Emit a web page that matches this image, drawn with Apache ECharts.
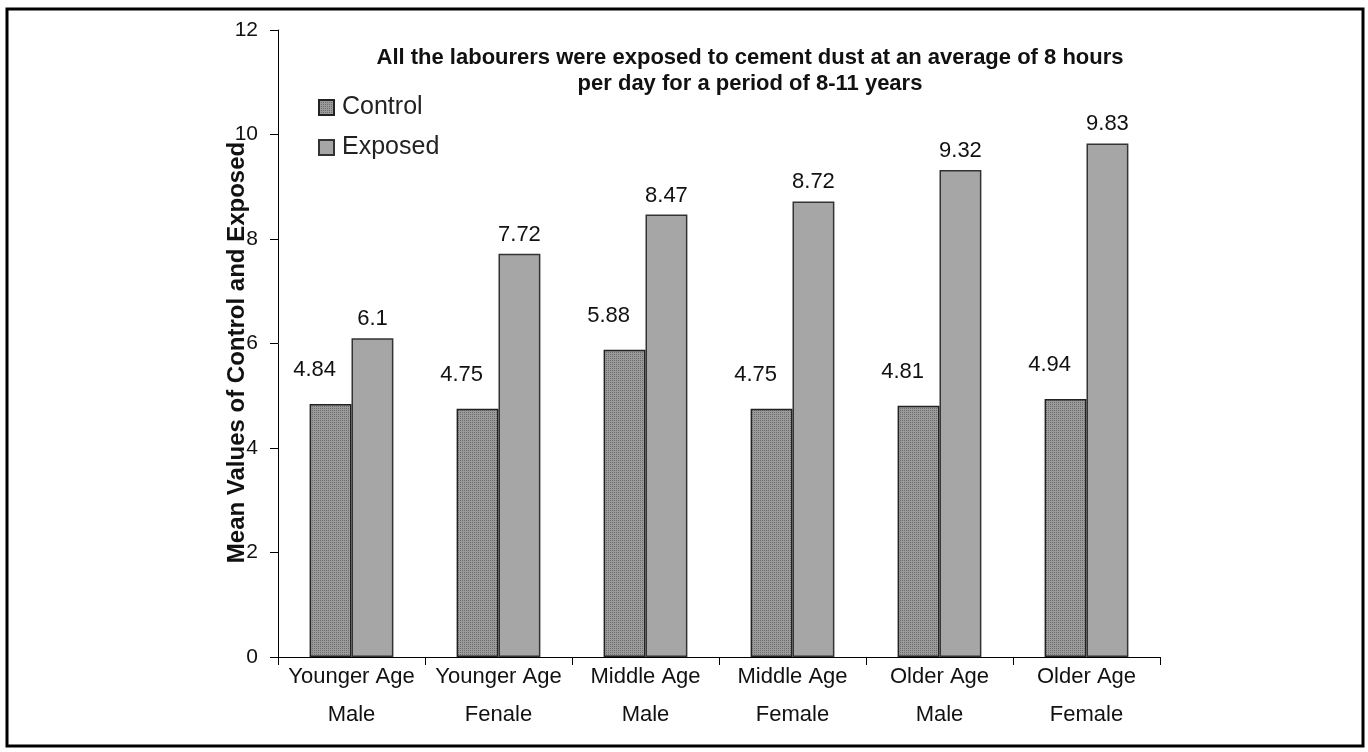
<!DOCTYPE html>
<html>
<head>
<meta charset="utf-8">
<script src="https://cdn.jsdelivr.net/npm/echarts@6/dist/echarts.min.js"></script>
<style>
  html, body { margin: 0; padding: 0; background: #fff; }
  #chart { width: 1368px; height: 752px; }
</style>
</head>
<body>
<div id="chart"></div>
<script>
// 数据
const categories = [
  "Younger Age\nMale",
  "Younger Age\nFenale",
  "Middle Age\nMale",
  "Middle Age\nFemale",
  "Older Age\nMale",
  "Older Age\nFemale",
];
const controlValues = [4.84, 4.75, 5.88, 4.75, 4.81, 4.94];
const exposedValues = [6.1, 7.72, 8.47, 8.72, 9.32, 9.83];
const seriesNames = ["Control", "Exposed"];
const yTicks = { min: 0, max: 12, interval: 2 };

const font = "Liberation Sans, Arial, sans-serif";

// 点状纹理 (control)
function dotPattern() {
  const c = document.createElement("canvas");
  c.width = 2;
  c.height = 2;
  const ctx = c.getContext("2d");
  ctx.fillStyle = "#9b9b9b";
  ctx.fillRect(0, 0, 2, 2);
  ctx.fillStyle = "#6c6c6c";
  ctx.fillRect(0, 0, 1, 1);
  return c;
}

const option = {
  backgroundColor: "#fff",
  animation: false,
  textStyle: { fontFamily: font },
  title: {
    text: "All the labourers were exposed to cement dust at an average of 8 hours\nper day for a period of 8-11 years",
    left: 745,
    textAlign: "center",
    top: 40,
    textStyle: {
      fontFamily: font,
      fontSize: 22,
      fontWeight: "bold",
      color: "#111",
      lineHeight: 26,
    },
  },
  legend: {
    orient: "vertical",
    left: 318,
    top: 95,
    padding: 0,
    itemWidth: 15,
    itemHeight: 15,
    itemGap: 15,
    icon: "rect",
    data: seriesNames,
    textStyle: { fontFamily: font, fontSize: 25, color: "#222", padding: [0, 0, 0, 3] },
  },
  grid: {
    left: 278,
    right: 208,
    top: 30,
    bottom: 95,
  },
  xAxis: {
    type: "category",
    data: categories,
    axisLine: { lineStyle: { color: "#000", width: 1 } },
    axisTick: { show: true, length: 8, lineStyle: { color: "#000" } },
    axisLabel: {
      color: "#111",
      fontSize: 22,
      fontFamily: font,
      lineHeight: 38,
      margin: 1,
      interval: 0,
    },
  },
  yAxis: {
    type: "value",
    min: yTicks.min,
    max: yTicks.max,
    interval: yTicks.interval,
    name: "Mean Values of Control and Exposed",
    nameLocation: "middle",
    nameGap: 29,
    nameMoveOverlap: false,
    nameTextStyle: {
      fontFamily: font,
      fontSize: 24,
      fontWeight: "bold",
      color: "#111",
      padding: [0, 18, 0, 0],
    },
    axisLine: { show: true, lineStyle: { color: "#000", width: 1 } },
    axisTick: { show: true, length: 8, lineStyle: { color: "#000" } },
    splitLine: { show: false },
    axisLabel: {
      color: "#111",
      fontSize: 21,
      fontFamily: font,
      margin: 20,
    },
  },
  series: [
    {
      name: seriesNames[0],
      type: "bar",
      data: controlValues,
      barGap: "0%",
      barCategoryGap: "43%",
      itemStyle: {
        color: { image: dotPattern(), repeat: "repeat" },
        borderColor: "#222",
        borderWidth: 1.5,
      },
      label: {
        show: true,
        position: "top",
        distance: 5,
        offset: [-16, -18],
        fontFamily: font,
        fontSize: 22,
        color: "#111",
      },
    },
    {
      name: seriesNames[1],
      type: "bar",
      data: exposedValues,
      itemStyle: {
        color: "#a6a6a6",
        borderColor: "#333",
        borderWidth: 1.5,
      },
      label: {
        show: true,
        position: "top",
        distance: 8,
        fontFamily: font,
        fontSize: 22,
        color: "#111",
      },
    },
  ],
  graphic: [
    {
      type: "rect",
      shape: { x: 7, y: 9, width: 1356, height: 737 },
      style: { fill: null, stroke: "#000", lineWidth: 3 },
      silent: true,
    },
  ],
};

const chart = echarts.init(document.getElementById("chart"));
chart.setOption(option);
</script>
</body>
</html>
